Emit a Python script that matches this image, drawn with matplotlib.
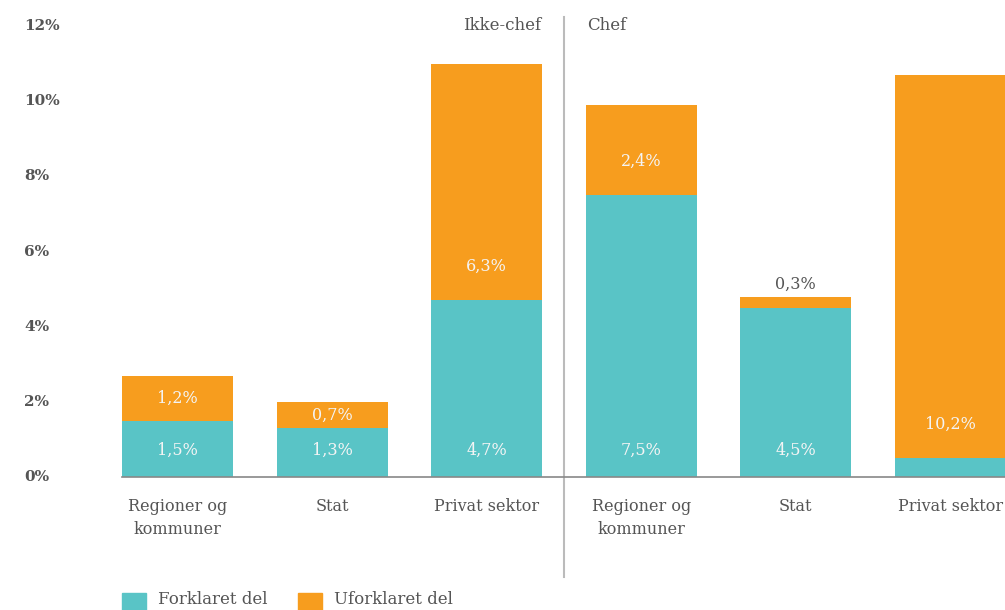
import matplotlib.pyplot as plt
from matplotlib.patches import Rectangle
from matplotlib.transforms import blended_transform_factory

plt.rcParams['font.family'] = ['DejaVu Serif']

categories = ['Regioner og\nkommuner', 'Stat', 'Privat sektor',
              'Regioner og\nkommuner', 'Stat', 'Privat sektor']
forklaret = [1.5, 1.3, 4.7, 7.5, 4.5, 0.5]
uforklaret = [1.2, 0.7, 6.3, 2.4, 0.3, 10.2]
forklaret_labels = ['1,5%', '1,3%', '4,7%', '7,5%', '4,5%', '']
uforklaret_labels = ['1,2%', '0,7%', '6,3%', '2,4%', '0,3%', '10,2%']
yticks = [0, 2, 4, 6, 8, 10, 12]
groups = ['Ikke-chef', 'Chef']

teal = '#59c4c6'
orange = '#f79d1e'
grey = '#555555'

fig = plt.figure(figsize=(10.05, 6.1), dpi=100)
ax = fig.add_axes([122 / 1005, 133 / 610, 883 / 1005, 451 / 610])

x = list(range(len(categories)))
ax.bar(x, forklaret, width=0.72, color=teal)
ax.bar(x, uforklaret, width=0.72, bottom=forklaret, color=orange)

ax.set_xlim(-0.36, 5.355)
ax.set_ylim(0, 12)

# value labels inside the segments
for i in x:
    f, u = forklaret[i], uforklaret[i]
    if forklaret_labels[i]:
        ax.text(i, 0.72, forklaret_labels[i], ha='center', va='center',
                color='#f4f4f4', fontsize=11.5)
    if u < 0.5:
        ax.text(i, f + u + 0.1, uforklaret_labels[i], ha='center', va='bottom',
                color=grey, fontsize=11.5)
    else:
        ax.text(i, f + min(u / 2, 0.9), uforklaret_labels[i], ha='center', va='center',
                color='#f4f4f4', fontsize=11.5)

for s in ['left', 'right', 'top']:
    ax.spines[s].set_visible(False)
ax.spines['bottom'].set_color('#888888')
ax.spines['bottom'].set_linewidth(1.2)

ax.set_yticks([])
ax.set_xticks(x)
ax.set_xticklabels(categories, color=grey, fontsize=11.5, linespacing=1.45)
ax.tick_params(axis='x', length=0, pad=15)

# y labels sit at the far left of the figure
trans = blended_transform_factory(fig.transFigure, ax.transData)
for t in yticks:
    ax.text(24 / 1005, t, f'{t}%', transform=trans, ha='left', va='center',
            color=grey, fontsize=11, fontweight='bold')

# divider between the two groups
ax.plot([2.5, 2.5], [-2.66, 12.23], color='#bbbbbb', lw=1.5, clip_on=False)
ax.text(2.35, 12, groups[0], ha='right', va='center', color=grey, fontsize=12)
ax.text(2.65, 12, groups[1], ha='left', va='center', color=grey, fontsize=12)

# legend along the bottom edge
for x0, col, lab in [(122, teal, 'Forklaret del'), (298, orange, 'Uforklaret del')]:
    fig.patches.append(Rectangle((x0 / 1005, -0.01), 24 / 1005, 23 / 610,
                                 transform=fig.transFigure, color=col))
    fig.text((x0 + 36) / 1005, 10 / 610, lab, ha='left', va='center',
             color=grey, fontsize=12)

fig.savefig('out.png', dpi=100)
